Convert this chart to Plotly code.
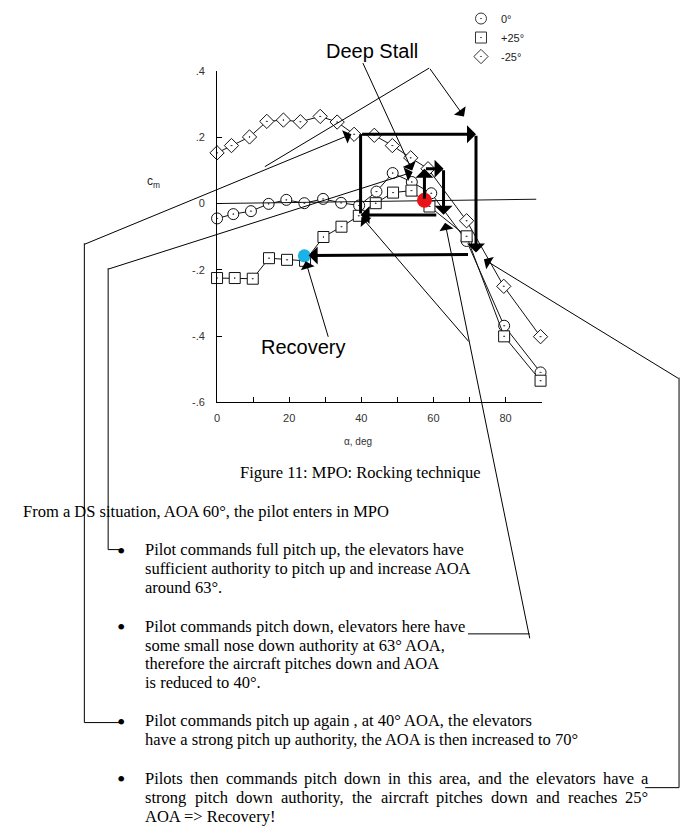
import plotly.graph_objects as go

W, H = 686, 838

# ---------------- data ----------------
alpha_0 = [0, 4.5, 9.4, 14.3, 19.2, 24.2, 29.4, 34.4, 39.4, 44.2, 48.7, 54.0, 59.4, 69.2, 79.6, 89.7]
cm_0 = [-0.045, -0.032, -0.023, -0.001, 0.011, 0.001, 0.014, 0.002, -0.006, 0.036, 0.092, 0.065, 0.031, -0.113, -0.369, -0.51]

alpha_p25 = [0, 4.9, 9.9, 14.4, 19.4, 24.4, 29.5, 34.5, 39.3, 44.0, 48.8, 53.9, 58.9, 69.2, 79.6, 89.7]
cm_p25 = [-0.225, -0.225, -0.227, -0.165, -0.17, -0.173, -0.101, -0.07, -0.037, 0.001, 0.033, 0.039, -0.009, -0.099, -0.401, -0.535]

alpha_m25 = [0, 4.0, 9.0, 13.8, 18.4, 23.1, 28.6, 33.3, 38.0, 43.6, 48.6, 53.7, 58.5, 69.2, 79.5, 89.7]
cm_m25 = [0.153, 0.175, 0.201, 0.248, 0.252, 0.247, 0.263, 0.246, 0.209, 0.206, 0.175, 0.138, 0.105, -0.052, -0.25, -0.402]

series_names = ["0°", "+25°", "-25°"]

# zero reference line of the original plot
zero_alpha = [0, 88.5]
zero_cm = [0, 0.013]

# deep stall start point and recovery point
deep_stall_alpha, deep_stall_cm = [57.5], [0.01]
recovery_alpha, recovery_cm = [24.2], [-0.158]

# rocking manoeuvre arrows: start (alpha, cm) -> end (alpha, cm)
rock_a0 = [57.5, 57.5, 62.8, 61.2, 39.8, 39.8, 71.8, 70.0]
rock_c0 = [0.01, 0.105, 0.105, -0.035, -0.035, 0.209, 0.209, -0.154]
rock_a1 = [57.5, 62.8, 62.8, 39.8, 39.8, 71.8, 71.8, 25.4]
rock_c1 = [0.105, 0.105, -0.034, -0.035, 0.209, 0.209, -0.148, -0.157]
rock_head = [1, 1, 1, 1, 0, 1, 1, 1]

y_tickvals = [-0.6, -0.4, -0.2, 0, 0.2, 0.4]
y_ticktext = ["-.6", "-.4", "-.2", "0", ".2", ".4"]
x_tickvals = [0, 20, 40, 60, 80]
x_minor = [10, 30, 50, 70, 90]

caption = "Figure 11: MPO: Rocking technique"
intro = "From a DS situation, AOA 60°, the pilot enters in MPO"
bullets = [
    ["Pilot commands full pitch up, the elevators have",
     "sufficient authority to pitch up and increase AOA",
     "around 63°."],
    ["Pilot commands pitch down, elevators here have",
     "some small nose down authority at 63° AOA,",
     "therefore the aircraft pitches down and AOA",
     "is reduced to 40°."],
    ["Pilot commands pitch up again , at 40° AOA, the elevators",
     "have a strong pitch up authority, the AOA is then increased to 70°"],
    ["Pilots then commands pitch down in this area, and the elevators have a",
     "strong pitch down authority, the aircraft pitches down and reaches 25°",
     "AOA => Recovery!"],
]
bullet_line_y = [[551.5, 571, 590], [629.5, 648.5, 667.5, 686.5], [725, 744.5], [783.5, 803, 822.5]]
justified = {(3, 0), (3, 1)}

# ---------------- helpers ----------------
def P(px, py):
    return px / W, 1 - py / H

SERIF = "Liberation Serif, Times New Roman, serif"
SANS = "Liberation Sans, Arial, sans-serif"
FS = 16.5

TW = {'a': .444, 'b': .5, 'c': .444, 'd': .5, 'e': .444, 'f': .333, 'g': .5, 'h': .5, 'i': .278,
      'j': .278, 'k': .5, 'l': .278, 'm': .778, 'n': .5, 'o': .5, 'p': .5, 'q': .5, 'r': .333,
      's': .389, 't': .278, 'u': .5, 'v': .5, 'w': .722, 'x': .5, 'y': .5, 'z': .444, ',': .25,
      '.': .25, '°': .4, 'P': .556, 'A': .722, 'O': .722, 'R': .667, '=': .564, '>': .564, '!': .333}
for d in "0123456789":
    TW[d] = .5

def tw(s):
    return sum(TW.get(c, .5) for c in s) * FS

fig = go.Figure()

marker_line = dict(color="#111", width=1)
for xs, ys, sym in [(alpha_m25, cm_m25, "diamond-dot"), (alpha_0, cm_0, "circle-dot"),
                    (alpha_p25, cm_p25, "square-dot")]:
    fig.add_trace(go.Scatter(x=xs, y=ys, mode="lines+markers", cliponaxis=False, showlegend=False,
                             line=dict(color="#111", width=1),
                             marker=dict(symbol=sym, size=11, color="white", line=marker_line)))

fig.add_trace(go.Scatter(x=zero_alpha, y=zero_cm, mode="lines", showlegend=False,
                         line=dict(color="#111", width=1)))

# legend-only entries
for name, sym in zip(series_names, ["circle-dot", "square-dot", "diamond-dot"]):
    fig.add_trace(go.Scatter(x=[None], y=[None], mode="markers", name=name,
                             marker=dict(symbol=sym, size=11, color="white",
                                         line=dict(color="#333", width=1))))

fig.add_trace(go.Scatter(x=deep_stall_alpha, y=deep_stall_cm, mode="markers", showlegend=False,
                         cliponaxis=False, marker=dict(size=15, color="#e8141a")))
fig.add_trace(go.Scatter(x=recovery_alpha, y=recovery_cm, mode="markers", showlegend=False,
                         cliponaxis=False, marker=dict(size=13, color="#1cb2e6")))

ann = []
# thick manoeuvre arrows (data coordinates)
for a0, c0, a1, c1, hd in zip(rock_a0, rock_c0, rock_a1, rock_c1, rock_head):
    ann.append(dict(x=a1, y=c1, ax=a0, ay=c0, xref="x", yref="y", axref="x", ayref="y",
                    text="", showarrow=True, arrowhead=1 if hd else 0, arrowsize=1.0,
                    arrowwidth=3, arrowcolor="black", standoff=0))

def thin_arrow(tail, tip):
    x, y = P(*tip)
    ann.append(dict(x=x, y=y, xref="paper", yref="paper", ax=tail[0] - tip[0], ay=tail[1] - tip[1],
                    text="", showarrow=True, arrowhead=1, arrowsize=2.4, arrowwidth=1,
                    arrowcolor="black", standoff=0))

shapes = []
def polyline(pts):
    path = "M " + " L ".join(f"{P(*p)[0]:.5f},{P(*p)[1]:.5f}" for p in pts)
    shapes.append(dict(type="path", xref="paper", yref="paper", path=path,
                       line=dict(color="black", width=1)))

# connectors from text bullets
polyline([(119, 551.5), (105.6, 551.5), (105.6, 266)])
thin_arrow((105.6, 266), (411.5, 168.5))
polyline([(119, 727), (81.7, 727), (81.7, 240.7)])
thin_arrow((81.7, 240.7), (350, 130))
polyline([(467, 637), (529, 637)])
thin_arrow((529, 637), (444, 220))
thin_arrow((468.5, 340), (360, 214))
polyline([(645, 793), (679, 793), (679, 377)])
thin_arrow((679, 377), (483, 257))
# Deep Stall pointers
thin_arrow((428, 63), (463, 112))
polyline([(428, 63), (263, 163)])
thin_arrow((361, 58), (411, 167))
# Recovery pointer
thin_arrow((327, 336), (304, 259))

def text(px, py, s, size=FS, family=SERIF, xanchor="left", color="black"):
    x, y = P(px, py)
    ann.append(dict(x=x, y=y, xref="paper", yref="paper", text=s, showarrow=False,
                    xanchor=xanchor, yanchor="middle", font=dict(family=family, size=size, color=color)))

text(322, 46, "Deep Stall", size=20, family=SANS)
text(257, 346, "Recovery", size=20, family=SANS)
text(143, 179, "c<sub>m</sub>", size=12, family=SANS, color="#222")
text(357, 442, "α, deg", size=10, family=SANS, xanchor="center", color="#333")
text(359, 473, caption, xanchor="center")
text(18, 513, intro)

X0, X1 = 141, 646
for bi, lines in enumerate(bullets):
    text(119, bullet_line_y[bi][0] + 1, "•", size=24, xanchor="center")
    for li, line in enumerate(lines):
        y = bullet_line_y[bi][li]
        if (bi, li) in justified:
            words = line.split(" ")
            widths = [tw(w) for w in words]
            gap = (X1 - X0 - sum(widths)) / (len(words) - 1)
            x = X0
            for w, wd in zip(words, widths):
                text(x, y, w)
                x += wd + gap
        else:
            text(X0, y, line)

fig.update_layout(
    width=W, height=H, margin=dict(l=0, r=0, t=0, b=0),
    paper_bgcolor="white", plot_bgcolor="rgba(0,0,0,0)",
    xaxis=dict(domain=[215 / W, 541 / W], range=[0, 90], showgrid=False, zeroline=False,
               showline=True, linecolor="black", linewidth=1, ticks="inside", ticklen=5,
               tickcolor="black", tickvals=x_tickvals, ticklabelstandoff=6,
               tickfont=dict(family=SANS, size=11, color="#333"),
               minor=dict(tickvals=x_minor, ticks="inside", ticklen=5, tickcolor="black")),
    yaxis=dict(domain=[1 - 402 / H, 1 - 66 / H], range=[-0.6, 0.4], showgrid=False, zeroline=False,
               showline=True, linecolor="black", linewidth=1, ticks="inside", ticklen=5,
               tickcolor="black", tickvals=y_tickvals, ticktext=y_ticktext, ticklabelstandoff=9,
               tickfont=dict(family=SANS, size=11, color="#333")),
    legend=dict(x=460 / W, y=1 + 2 / H, xanchor="left", yanchor="top",
                font=dict(family=SANS, size=11, color="#222"), bgcolor="rgba(0,0,0,0)",
                tracegroupgap=0, itemwidth=30),
    annotations=ann, shapes=shapes,
)

fig.write_html("out.html", config={"displayModeBar": False},
               post_script="document.body.style.margin='0';")
